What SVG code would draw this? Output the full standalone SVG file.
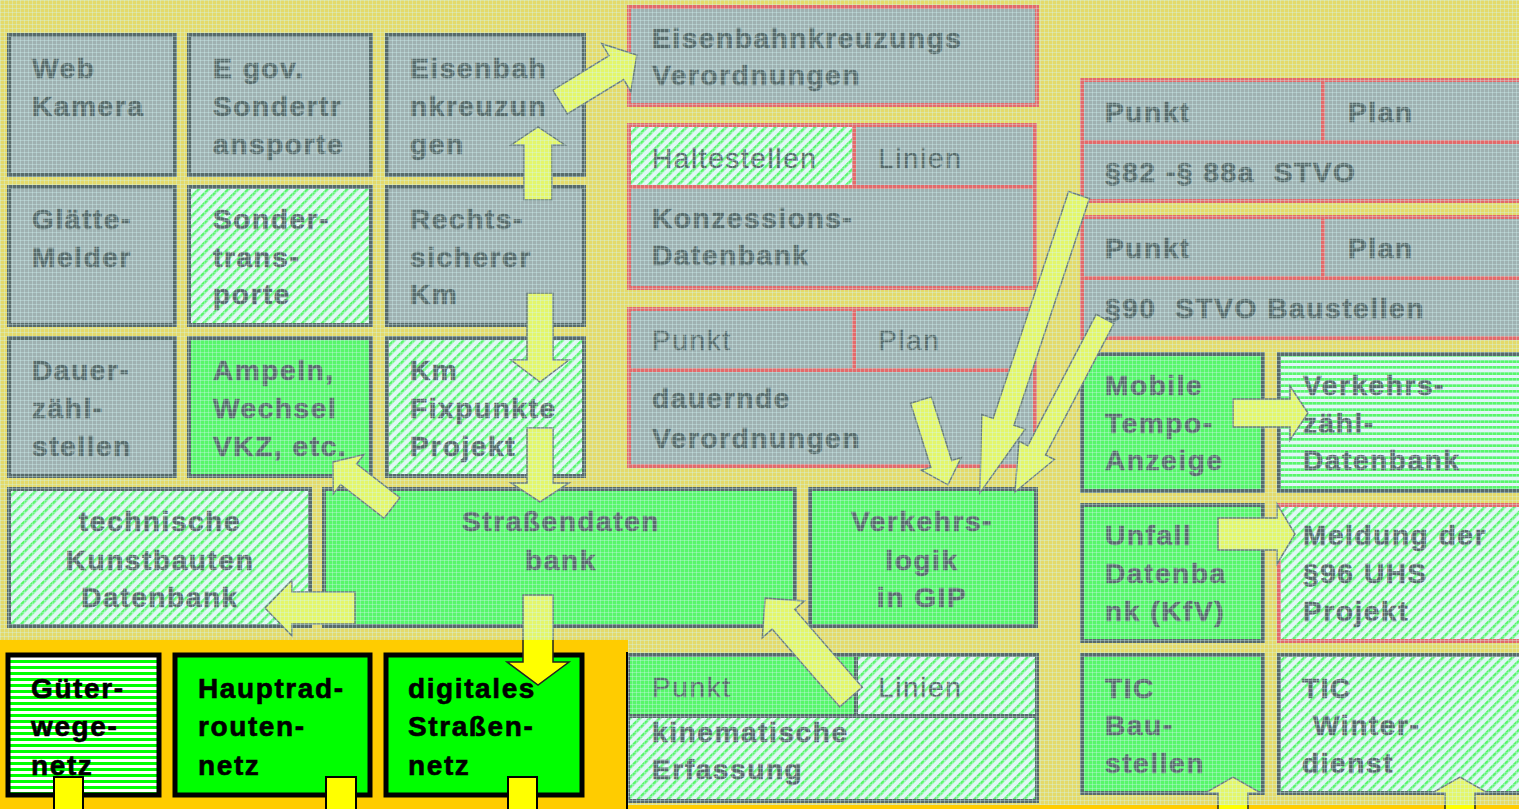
<svg xmlns="http://www.w3.org/2000/svg" width="1519" height="809" viewBox="0 0 1519 809">
<defs>
<style>
.t{font-family:"Liberation Sans",Arial,sans-serif;font-size:28px;letter-spacing:1.6px;fill:#000;stroke:#000;stroke-width:0.6px;font-weight:bold}
.r{font-weight:normal;stroke-width:0.3px}
.c{text-anchor:middle}
.k{fill:#000}
.gray{fill:#818181;stroke:#000;stroke-width:4}
.grayR{fill:#818181;stroke:#ff0000;stroke-width:4}
.green{fill:#00ff00;stroke:#000;stroke-width:4}
.hatch{fill:url(#hatch);stroke:#000;stroke-width:4}
.hatchR{fill:url(#hatch);stroke:#ff0000;stroke-width:4}
.hs{fill:url(#hs);stroke:#000;stroke-width:4}
.redl{stroke:#ff0000;stroke-width:4;fill:none}
.darkl{stroke:#000;stroke-width:4;fill:none}
.bl{stroke:#000;stroke-width:5}
.arrow{fill:#ffff00;stroke:#222;stroke-width:1.5;stroke-linejoin:miter}
.stem{fill:#ffff00;stroke:#000;stroke-width:2}
</style>
<pattern id="hatch" width="7" height="7" patternUnits="userSpaceOnUse" patternTransform="rotate(45)"><rect width="7" height="7" fill="#ffffff"/><rect width="2.6" height="7" fill="#00ff00"/></pattern>
<pattern id="hs" width="6" height="6" patternUnits="userSpaceOnUse"><rect width="6" height="6" fill="#ffffff"/><rect width="6" height="3" fill="#00ff00"/></pattern>
<pattern id="ov" width="4" height="4" patternUnits="userSpaceOnUse"><rect width="4" height="4" fill="#c3ebeb" fill-opacity="0.45"/><rect width="4" height="1" fill="#d2f5f5" fill-opacity="0.35"/><rect width="1" height="4" fill="#d2f5f5" fill-opacity="0.35"/></pattern>
</defs>
<rect x="0" y="0" width="1519" height="809" fill="#ffcc00"/>
<g id="nodes">
<g id="n-web"><rect class="gray" x="9" y="35" width="166" height="140"/><text class="t" x="32" y="78">Web</text><text class="t" x="32" y="116">Kamera</text></g>
<g id="n-egov"><rect class="gray" x="189" y="35" width="182" height="140"/><text class="t" x="213" y="78">E gov.</text><text class="t" x="213" y="116">Sondertr</text><text class="t" x="213" y="154">ansporte</text></g>
<g id="n-eisenb"><rect class="gray" x="387" y="35" width="197" height="140"/><text class="t" x="410" y="78">Eisenbah</text><text class="t" x="410" y="116">nkreuzun</text><text class="t" x="410" y="154">gen</text></g>
<g id="n-glaette"><rect class="gray" x="9" y="187" width="166" height="138"/><text class="t" x="32" y="229">Glätte-</text><text class="t" x="32" y="267">Melder</text></g>
<g id="n-sonder"><rect class="hatch" x="189" y="187" width="182" height="138"/><text class="t" x="213" y="229">Sonder-</text><text class="t" x="213" y="267">trans-</text><text class="t" x="213" y="304">porte</text></g>
<g id="n-rechts"><rect class="gray" x="387" y="187" width="197" height="138"/><text class="t" x="410" y="229">Rechts-</text><text class="t" x="410" y="267">sicherer</text><text class="t" x="410" y="304">Km</text></g>
<g id="n-dauer"><rect class="gray" x="9" y="338" width="166" height="138"/><text class="t" x="32" y="380">Dauer-</text><text class="t" x="32" y="418">zähl-</text><text class="t" x="32" y="456">stellen</text></g>
<g id="n-ampeln"><rect class="green" x="189" y="338" width="182" height="138"/><text class="t" x="213" y="380">Ampeln,</text><text class="t" x="213" y="418">Wechsel</text><text class="t" x="213" y="456">VKZ, etc.</text></g>
<g id="n-kmfix"><rect class="hatch" x="387" y="338" width="197" height="138"/><text class="t" x="410" y="380">Km</text><text class="t" x="410" y="418">Fixpunkte</text><text class="t" x="410" y="456">Projekt</text></g>
<g id="n-kunstbauten"><rect class="hatch" x="9" y="489" width="301" height="137"/><text class="t c" x="160" y="531">technische</text><text class="t c" x="160" y="570">Kunstbauten</text><text class="t c" x="160" y="607">Datenbank</text></g>
<g id="n-strassendb"><rect class="green" x="324" y="489" width="471" height="137"/><text class="t c" x="561" y="531">Straßendaten</text><text class="t c" x="561" y="570">bank</text></g>
<g id="n-verkehrslogik"><rect class="green" x="810" y="489" width="226" height="137"/><text class="t c" x="922" y="531">Verkehrs-</text><text class="t c" x="922" y="570">logik</text><text class="t c" x="922" y="607">in GIP</text></g>
<g id="n-ekvo"><rect class="grayR" x="629" y="7" width="408" height="98"/><text class="t" x="652" y="48">Eisenbahnkreuzungs</text><text class="t" x="652" y="85">Verordnungen</text></g>
<g id="n-konzession"><rect class="grayR" x="629" y="125" width="406" height="163"/><rect x="631" y="127" width="222" height="58" fill="url(#hatch)"/><path class="redl" d="M854 125V187M629 187H1035"/><text class="t r" x="652" y="168">Haltestellen</text><text class="t r" x="878" y="168">Linien</text><text class="t" x="652" y="228">Konzessions-</text><text class="t" x="652" y="265">Datenbank</text></g>
<g id="n-dauernde"><rect class="grayR" x="629" y="309" width="406" height="157"/><path class="redl" d="M854 309V370M629 370H1035"/><text class="t r" x="652" y="350">Punkt</text><text class="t r" x="878" y="350">Plan</text><text class="t" x="652" y="408">dauernde</text><text class="t" x="652" y="448">Verordnungen</text></g>
<g id="n-kinematisch"><rect class="hatch" x="628" y="655" width="409" height="146"/><rect x="630" y="657" width="225" height="58" fill="#00ff00"/><path class="darkl" d="M856 655V716M628 716H1037"/><text class="t r" x="652" y="697">Punkt</text><text class="t r" x="878" y="697">Linien</text><text class="t" x="652" y="742">kinematische</text><text class="t" x="652" y="779">Erfassung</text></g>
<g id="n-stvo82"><rect class="grayR" x="1082" y="80" width="440" height="121"/><path class="redl" d="M1323 80V142M1082 142H1522"/><text class="t" x="1105" y="122">Punkt</text><text class="t" x="1348" y="122">Plan</text><text class="t" x="1105" y="182">§82 -§ 88a&#160; STVO</text></g>
<g id="n-stvo90"><rect class="grayR" x="1082" y="217" width="440" height="121"/><path class="redl" d="M1323 217V278M1082 278H1522"/><text class="t" x="1105" y="258">Punkt</text><text class="t" x="1348" y="258">Plan</text><text class="t" x="1105" y="318">§90&#160; STVO Baustellen</text></g>
<g id="n-mobile"><rect class="green" x="1082" y="354" width="181" height="137"/><text class="t" x="1105" y="395">Mobile</text><text class="t" x="1105" y="433">Tempo-</text><text class="t" x="1105" y="470">Anzeige</text></g>
<g id="n-vzaehl"><rect class="hs" x="1279" y="354" width="245" height="137"/><text class="t" x="1303" y="395">Verkehrs-</text><text class="t" x="1303" y="433">zähl-</text><text class="t" x="1303" y="470">Datenbank</text></g>
<g id="n-unfall"><rect class="green" x="1082" y="505" width="181" height="136"/><text class="t" x="1105" y="545">Unfall</text><text class="t" x="1105" y="583">Datenba</text><text class="t" x="1105" y="621">nk (KfV)</text></g>
<g id="n-meldung"><rect class="hatchR" x="1279" y="505" width="245" height="136"/><text class="t" x="1303" y="545">Meldung der</text><text class="t" x="1303" y="583">§96 UHS</text><text class="t" x="1303" y="621">Projekt</text></g>
<g id="n-ticbau"><rect class="green" x="1082" y="655" width="181" height="138"/><text class="t" x="1105" y="698">TIC</text><text class="t" x="1105" y="735">Bau-</text><text class="t" x="1105" y="773">stellen</text></g>
<g id="n-ticwinter"><rect class="hatch" x="1279" y="655" width="245" height="138"/><text class="t" x="1302" y="698">TIC</text><text class="t" x="1313" y="735">Winter-</text><text class="t" x="1302" y="773">dienst</text></g>
<g id="n-gueter"><rect class="bl" fill="url(#hs)" x="8" y="655" width="151" height="140"/><text class="t k" x="31" y="698">Güter-</text><text class="t k" x="31" y="736">wege-</text><text class="t k" x="31" y="775">netz</text></g>
<g id="n-hauptrad"><rect class="bl" fill="#00ff00" x="175" y="655" width="195" height="140"/><text class="t k" x="198" y="698">Hauptrad-</text><text class="t k" x="198" y="736">routen-</text><text class="t k" x="198" y="775">netz</text></g>
<g id="n-digital"><rect class="bl" fill="#00ff00" x="386" y="655" width="196" height="140"/><text class="t k" x="408" y="698">digitales</text><text class="t k" x="408" y="736">Straßen-</text><text class="t k" x="408" y="775">netz</text></g>
</g>
<g id="connectors">
<polygon class="arrow" transform="translate(560,102) rotate(-31.4)" points="0,-14 66,-14 66,-28 90,0 66,28 66,14 0,14"/>
<polygon class="arrow" transform="translate(538,200) rotate(-90)" points="0,-14 55,-14 55,-27 73,0 55,27 55,14 0,14"/>
<polygon class="arrow" transform="translate(540,293) rotate(90)" points="0,-13 67,-13 67,-29 89,0 67,29 67,13 0,13"/>
<polygon class="arrow" transform="translate(540,428) rotate(90)" points="0,-13 55,-13 55,-29 74,0 55,29 55,13 0,13"/>
<polygon class="arrow" transform="translate(538,595) rotate(90)" points="0,-15 67,-15 67,-31 90,0 67,31 67,15 0,15"/>
<polygon class="arrow" transform="translate(392,508) rotate(-142.1)" points="0,-13 55,-13 55,-25 75,0 55,25 55,13 0,13"/>
<polygon class="arrow" transform="translate(355,608) rotate(180)" points="0,-16 63,-16 63,-28 90,0 63,28 63,16 0,16"/>
<polygon class="arrow" transform="translate(851,697) rotate(-131)" points="0,-15 103,-15 103,-28 131,0 103,28 103,15 0,15"/>
<polygon class="arrow" transform="translate(921,400) rotate(72.4)" points="0,-11 67,-11 67,-21 89,0 67,21 67,11 0,11"/>
<polygon class="arrow" transform="translate(1079,195) rotate(108.4)" points="0,-11 239,-11 239,-23 314,0 239,23 239,11 0,11"/>
<polygon class="arrow" transform="translate(1105,319) rotate(117.5)" points="0,-10 148,-10 148,-20 195,0 148,20 148,10 0,10"/>
<polygon class="arrow" transform="translate(1233,413) rotate(0)" points="0,-14 57,-14 57,-27 75,0 57,27 57,14 0,14"/>
<polygon class="arrow" transform="translate(1218,534) rotate(0)" points="0,-16 59,-16 59,-30 77,0 59,30 59,16 0,16"/>
<polygon class="arrow" transform="translate(1233,815) rotate(-90)" points="0,-15 22,-15 22,-28 38,0 22,28 22,15 0,15"/>
<polygon class="arrow" transform="translate(1460,815) rotate(-90)" points="0,-15 22,-15 22,-28 38,0 22,28 22,15 0,15"/>
<rect class="stem" x="54" y="777" width="29" height="40"/>
<rect class="stem" x="326" y="777" width="30" height="40"/>
<rect class="stem" x="508" y="777" width="29" height="40"/>
</g>
<path d="M0 0H1519V805H628V640H0Z" fill="url(#ov)"/>
<line x1="627" y1="652" x2="627" y2="809" stroke="#000" stroke-width="2"/>
</svg>
